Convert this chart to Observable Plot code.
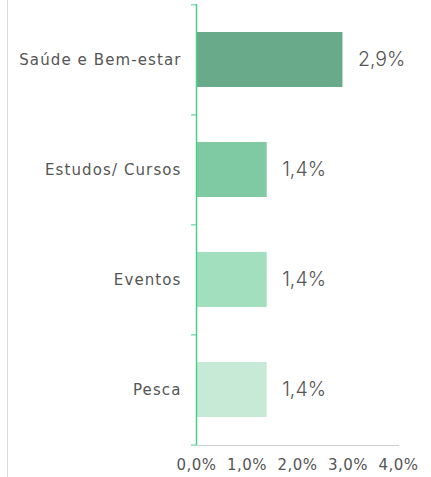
<!DOCTYPE html>
<html><head><meta charset="utf-8">
<script src="https://cdn.jsdelivr.net/npm/d3@7"></script>
<script src="https://cdn.jsdelivr.net/npm/@observablehq/plot@0.6"></script>
<style>
html,body{margin:0;padding:0;background:#fff;}
#wrap{position:relative;width:431px;height:477px;}
#wrap::before{content:"";position:absolute;left:7px;top:0;bottom:0;border-left:1px solid #d9d9d9;}
#wrap g[aria-label="y-axis tick label"] text{letter-spacing:1.1px;}
#wrap g[aria-label="x-axis tick label"] text{letter-spacing:0.5px;}
</style>
</head><body>
<div id="wrap"></div>
<script>
const categories = ["Saúde e Bem-estar", "Estudos/ Cursos", "Eventos", "Pesca"];
const values = [2.9, 1.4, 1.4, 1.4];
const colors = ["#69aa8a", "#7fcaa2", "#a2dfbf", "#c6ead6"];
const xTicks = [0, 1, 2, 3, 4];

const data = categories.map((c, i) => ({category: c, value: values[i], color: colors[i]}));
const fmt = d => d.toFixed(1).replace(".", ",") + "%";
const half = (477 - 4 - 32) / categories.length / 2;

const chart = Plot.plot({
  width: 431,
  height: 477,
  marginLeft: 196,
  marginRight: 33,
  marginTop: 4,
  marginBottom: 32,
  style: {fontFamily: "'DejaVu Sans', sans-serif", color: "#555", background: "transparent"},
  x: {domain: [0, 4], ticks: xTicks, tickFormat: fmt},
  y: {domain: categories, paddingInner: 0.5, paddingOuter: 0.25, label: null},
  marks: [
    Plot.frame({anchor: "bottom", stroke: "#cfcfcf"}),
    Plot.barX(data, {x: "value", y: "category", fill: "color"}),
    Plot.text(data, {x: "value", y: "category", text: d => fmt(d.value), textAnchor: "start", dx: 15, fontSize: 19.5, fontFamily: "Inter, sans-serif", fontWeight: 300, fill: "#555"}),
    Plot.ruleX([0], {stroke: "#4ccf8c", strokeWidth: 1.5}),
    Plot.ruleY(categories, {y: d => d, x1: -0.1, x2: 0, dy: -half, stroke: "#4ccf8c"}),
    Plot.ruleY([categories[categories.length - 1]], {y: d => d, x1: -0.1, x2: 0, dy: half, stroke: "#4ccf8c"}),
    Plot.axisY({tickSize: 0, tickPadding: 15, fontSize: 15, label: null, fill: "#555"}),
    Plot.axisX({ticks: xTicks, tickFormat: fmt, tickSize: 0, tickPadding: 14, fontSize: 15, label: null, fill: "#555"})
  ]
});
document.getElementById("wrap").appendChild(chart);
</script>
</body></html>
